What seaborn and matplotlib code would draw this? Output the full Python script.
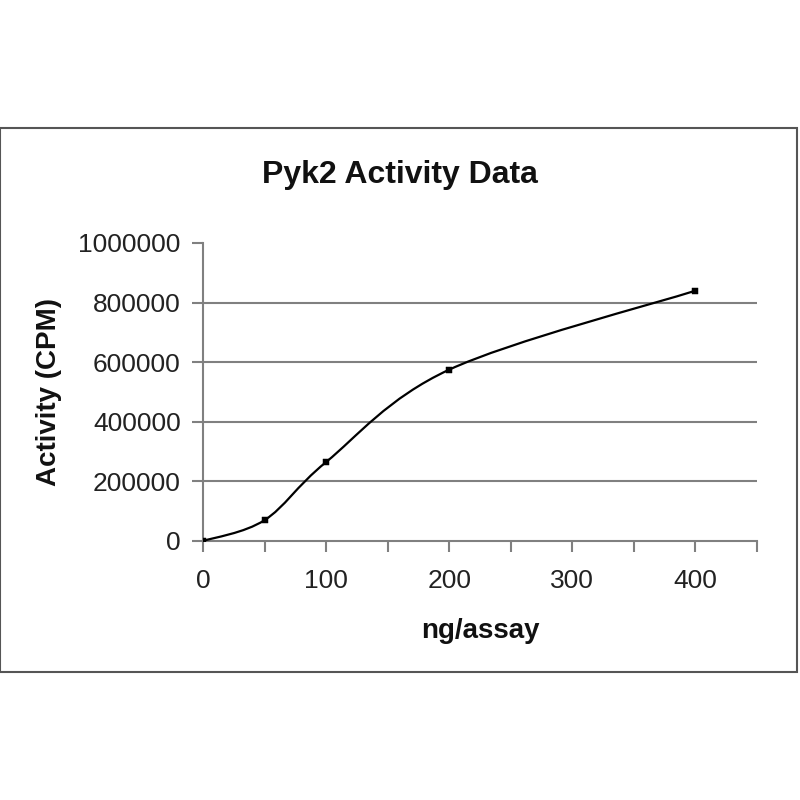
import numpy as np
import pandas as pd
import seaborn as sns
import matplotlib
matplotlib.use("Agg")
import matplotlib.pyplot as plt
from matplotlib.path import Path
from matplotlib.patches import PathPatch, Rectangle

ng_assay = [0, 50, 100, 200, 400]
activity_cpm = [0, 70000, 265000, 575000, 840000]
x_ticks = [0, 100, 200, 300, 400]
y_ticks = [0, 200000, 400000, 600000, 800000, 1000000]
title = "Pyk2 Activity Data"
x_label = "ng/assay"
y_label = "Activity (CPM)"

df = pd.DataFrame({"ng": ng_assay, "cpm": activity_cpm})

sns.set_theme(style="white")
plt.rcParams["font.family"] = ["Liberation Sans", "DejaVu Sans"]

fig = plt.figure(figsize=(8, 8), dpi=100)
fig.patch.set_facecolor("white")
fig.add_artist(Rectangle((0.0, (800 - 672) / 800), 797 / 800, 544 / 800,
                         transform=fig.transFigure, fill=False,
                         edgecolor="#555555", linewidth=1.5))

ax = fig.add_axes([203 / 800, (800 - 541) / 800, (757 - 203) / 800, (541 - 243) / 800])

# smooth (Excel-like) curve through the data using Catmull-Rom -> Bezier segments
xs = np.array(df["ng"], dtype=float)
ys = np.array(df["cpm"], dtype=float)
verts = [(xs[0], ys[0])]
codes = [Path.MOVETO]
n = len(xs)
t = 1.0 / 6.0
for i in range(n - 1):
    p0 = np.array([xs[max(i - 1, 0)], ys[max(i - 1, 0)]])
    p1 = np.array([xs[i], ys[i]])
    p2 = np.array([xs[i + 1], ys[i + 1]])
    p3 = np.array([xs[min(i + 2, n - 1)], ys[min(i + 2, n - 1)]])
    c1 = p1 + (p2 - p0) * t
    c2 = p2 - (p3 - p1) * t
    verts += [tuple(c1), tuple(c2), tuple(p2)]
    codes += [Path.CURVE4] * 3
ax.add_patch(PathPatch(Path(verts, codes), fill=False, edgecolor="black",
                       linewidth=1.6, zorder=3))

sns.scatterplot(data=df, x="ng", y="cpm", ax=ax, marker="s", s=18,
                color="black", edgecolor="black", zorder=4)

ax.set_xlim(0, 450)
ax.set_ylim(0, 1000000)
ax.set_xticks(list(range(0, 451, 50)))
ax.set_xticklabels([str(v) if v in x_ticks else "" for v in range(0, 451, 50)])
ax.set_yticks(y_ticks)
ax.set_yticklabels([str(v) for v in y_ticks])

for v in y_ticks[1:-1]:
    ax.axhline(v, color="#808080", linewidth=1.5, zorder=1)

for side in ["top", "right"]:
    ax.spines[side].set_visible(False)
for side in ["left", "bottom"]:
    ax.spines[side].set_color("#808080")
    ax.spines[side].set_linewidth(1.5)

ax.tick_params(axis="both", which="both", direction="out", length=8, width=1.5,
               color="#808080", labelsize=19, labelcolor="#222222", pad=8,
               bottom=True, left=True)
ax.tick_params(axis="x", pad=12)

ax.set_xlabel(x_label, fontsize=20, fontweight="bold", labelpad=18, color="#111111")
ax.set_ylabel(y_label, fontsize=20, fontweight="bold", labelpad=12, color="#111111")
fig.text(400 / 800, 1 - 175 / 800, title, ha="center", va="center",
         fontsize=23, fontweight="bold", color="#111111")

fig.savefig("out.png", dpi=100, facecolor="white")
